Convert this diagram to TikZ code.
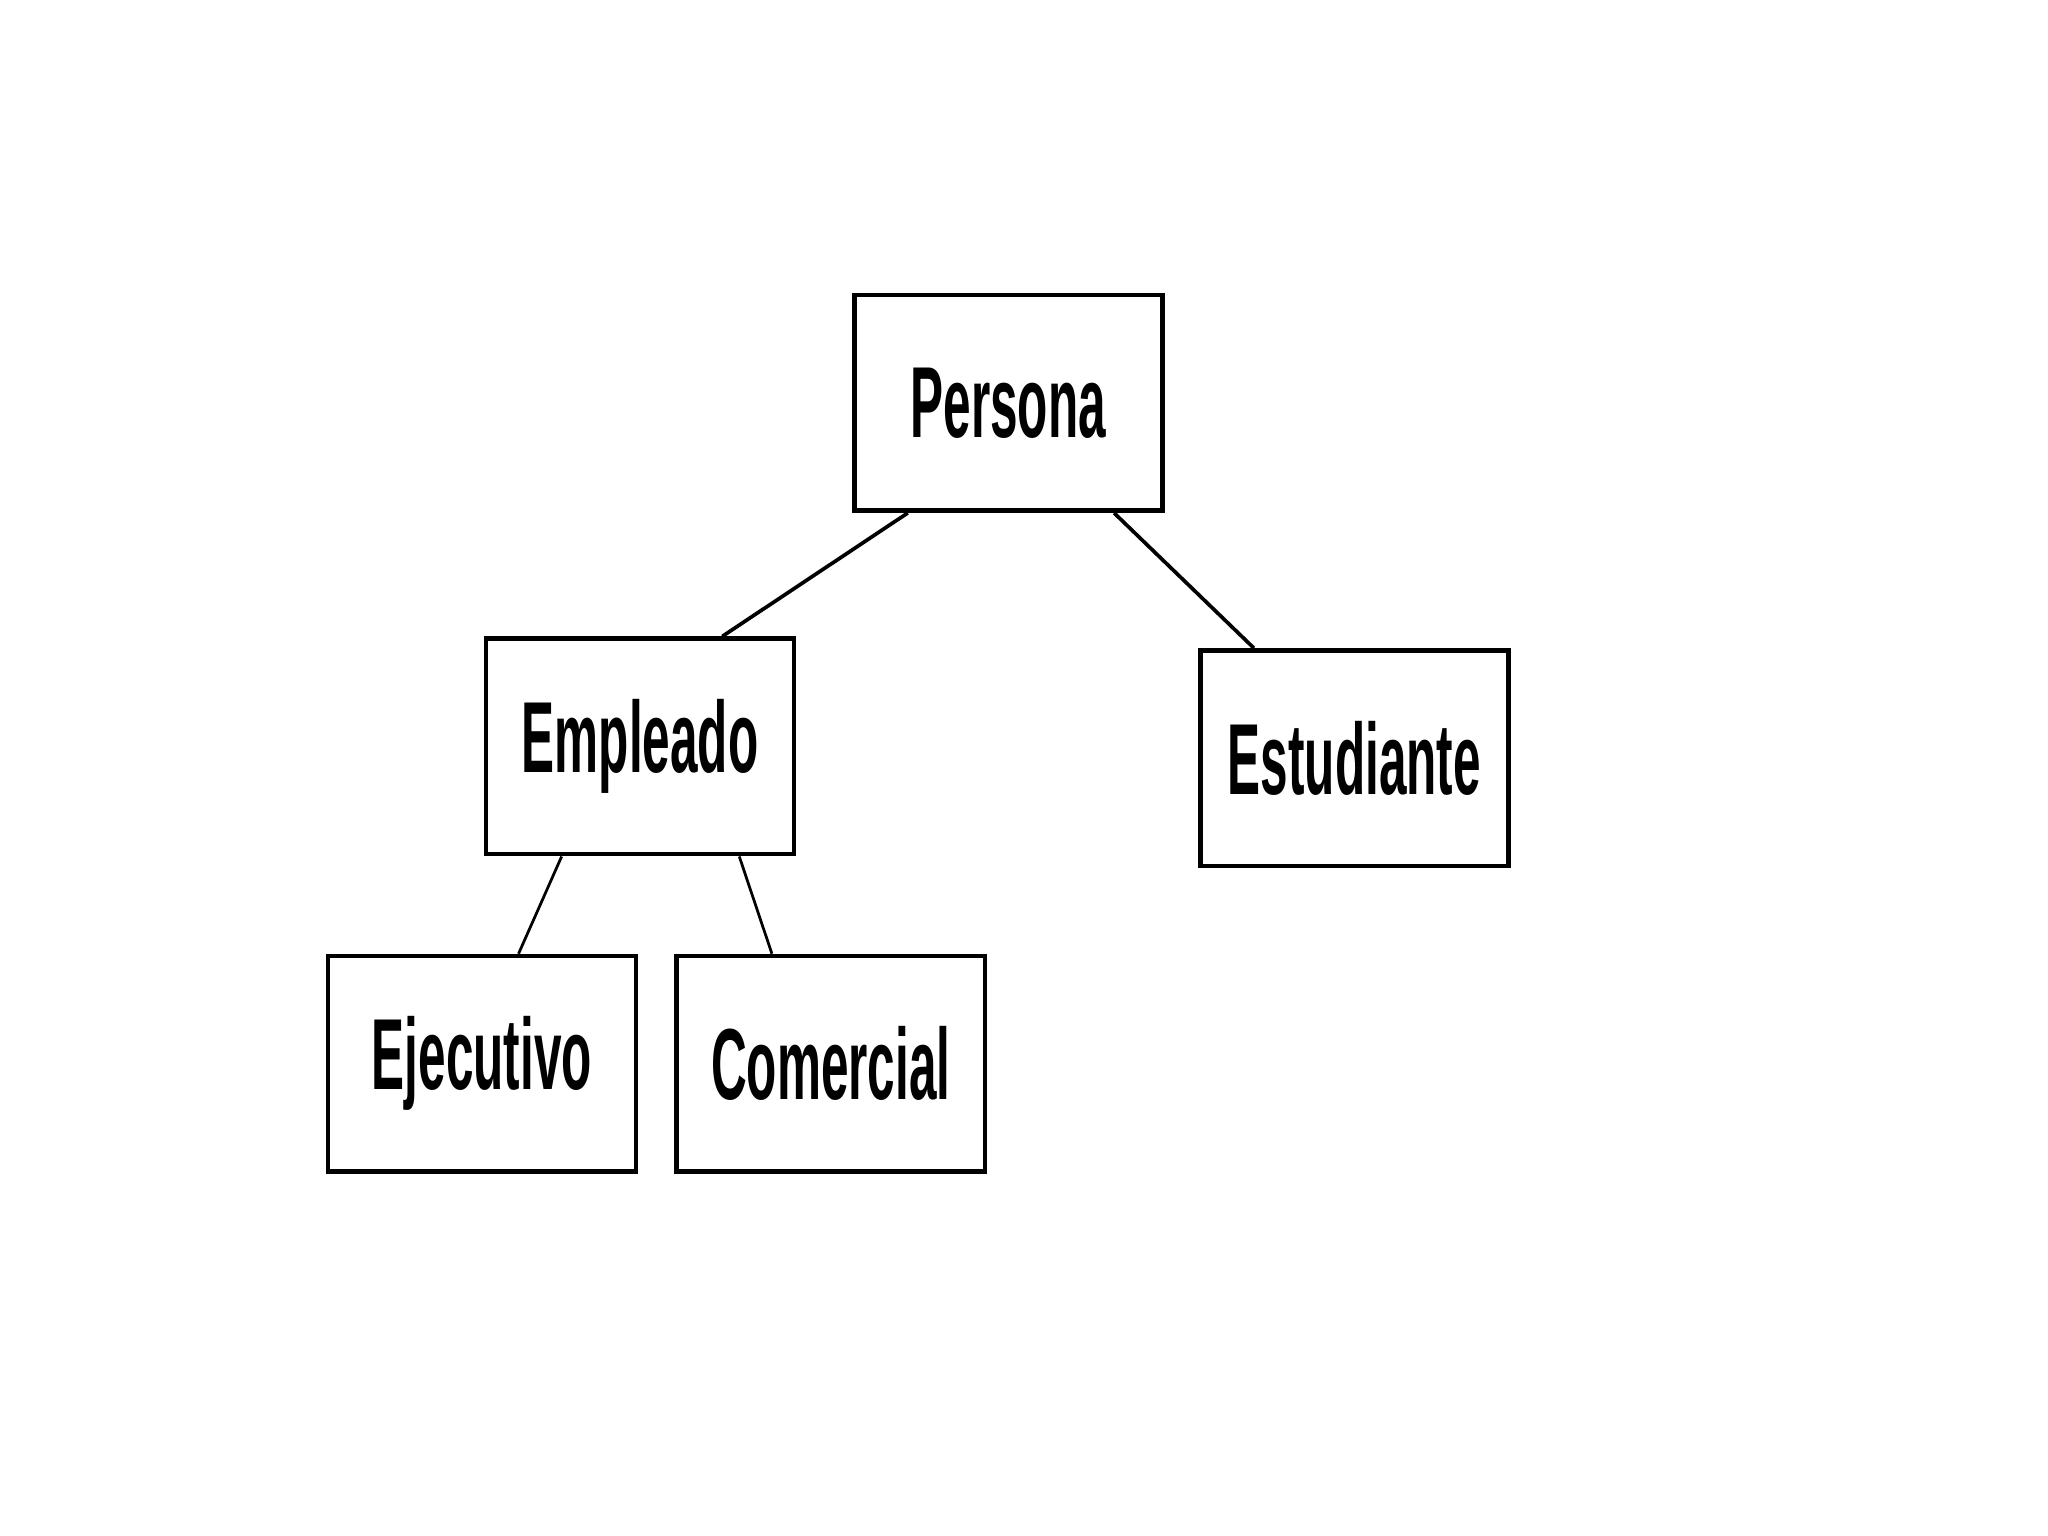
\documentclass[tikz,border=0pt]{standalone}
\usepackage{fontspec}
\setmainfont{Liberation Sans}
\usepackage{graphicx}
\newcommand{\etiqueta}[1]{\scalebox{0.49}[1]{\fontsize{22}{24}\selectfont\bfseries #1}}
\tikzset{clase/.style={draw, line width=1pt, minimum width=2.36cm, minimum height=1.65cm, inner sep=0pt}}

\begin{document}
\begin{tikzpicture}
\useasboundingbox (0,0) rectangle (15.68,11.76);
\node [clase] (per) at (7.72,8.675) {\etiqueta{Persona}};
\node [clase] (emp) at (4.90,6.045) {\etiqueta{Empleado}};
\node [clase] (est) at (10.37,5.955) {\etiqueta{Estudiante}};
\node [clase] (eje) at (3.69,3.615) {\etiqueta{Ejecutivo}};
\node [clase] (com) at (6.36,3.615) {\etiqueta{Comercial}};
\draw [line width=0.8pt] ([xshift=-0.77cm]per.south) -- ([xshift=0.63cm]emp.north);
\draw [line width=0.8pt] ([xshift=0.81cm]per.south) -- ([xshift=-0.77cm]est.north);
\draw [line width=0.6pt] ([xshift=-0.60cm]emp.south) -- ([xshift=0.28cm]eje.north);
\draw [line width=0.6pt] ([xshift=0.76cm]emp.south) -- ([xshift=-0.45cm]com.north);
\end{tikzpicture}
\end{document}
